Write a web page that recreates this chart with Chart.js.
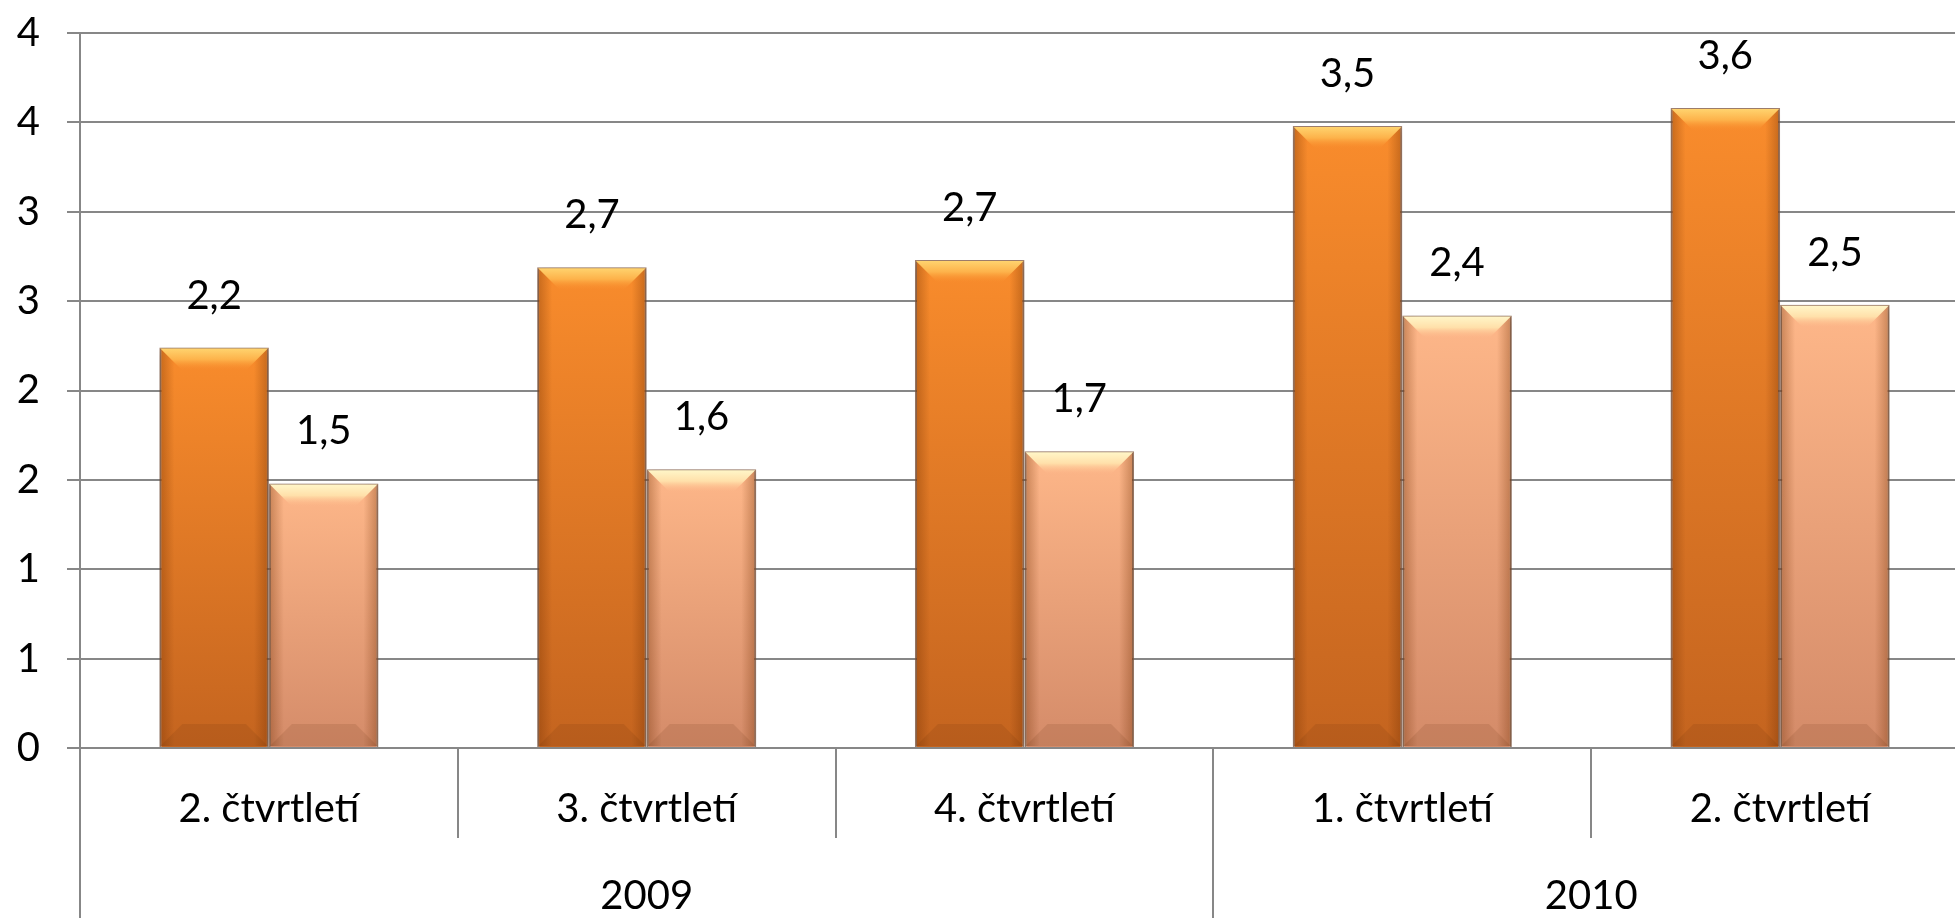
<!DOCTYPE html>
<html>
<head>
<meta charset="utf-8">
<script src="https://cdn.jsdelivr.net/npm/chart.js@4"></script>
<style>
  html, body { margin: 0; padding: 0; background: #fff; overflow: hidden; }
  #wrap { position: absolute; left: 0; top: 0; width: 1970px; height: 918px; }
</style>
</head>
<body>
<div id="wrap"><canvas id="chart" width="1970" height="918"></canvas></div>
<script>
// Data
const quarters = ['2. čtvrtletí', '3. čtvrtletí', '4. čtvrtletí', '1. čtvrtletí', '2. čtvrtletí'];
const years = ['2009', '2010'];
const yearSpans = [3, 2]; // how many quarters sit under each year
const seriesDark = [2.24, 2.69, 2.73, 3.48, 3.58];
const seriesLight = [1.48, 1.56, 1.66, 2.42, 2.48];
const yTicks = [0, 0.5, 1, 1.5, 2, 2.5, 3, 3.5, 4];

const GRID = '#878787';
const FONT = 'Lato';
Chart.defaults.font.family = FONT;
Chart.defaults.font.size = 40;
Chart.defaults.color = '#000';

const fmt = v => v.toFixed(1).replace('.', ',');

// vertical gradient per bar, from its top down to zero
function barGradient(c, top, bottom) {
    const chart = c.chart;
    if (!chart.chartArea || !chart.scales.y) return top;
    const y0 = chart.scales.y.getPixelForValue(c.raw);
    const y1 = chart.scales.y.getPixelForValue(0);
    const g = chart.ctx.createLinearGradient(0, y0, 0, y1);
    g.addColorStop(0, top);
    g.addColorStop(1, bottom);
    return g;
}

// soft shadow + Excel-ish bevel + value labels
const bevelPlugin = {
    id: 'bevel',
    beforeDatasetsDraw(chart) {
        const ctx = chart.ctx;
        ctx.save();
        ctx.shadowColor = 'rgba(0,0,0,0.28)';
        ctx.shadowBlur = 10;
        ctx.shadowOffsetY = 2;
    },
    afterDatasetsDraw(chart) {
        const ctx = chart.ctx;
        ctx.restore();
        chart.data.datasets.forEach((ds, di) => {
            chart.getDatasetMeta(di).data.forEach((bar, i) => {
                const l = bar.x - bar.width / 2 + 1, r = bar.x + bar.width / 2 - 1;
                const t = bar.y + 1, b = bar.base - 1;
                const s = 22;

                // side shading
                let g = ctx.createLinearGradient(l, 0, l + 14, 0);
                g.addColorStop(0, 'rgba(110,45,0,0.35)');
                g.addColorStop(1, 'rgba(110,45,0,0)');
                ctx.fillStyle = g;
                ctx.fillRect(l, t, 14, b - t);
                g = ctx.createLinearGradient(r - 14, 0, r, 0);
                g.addColorStop(0, 'rgba(110,45,0,0)');
                g.addColorStop(1, 'rgba(110,45,0,0.35)');
                ctx.fillStyle = g;
                ctx.fillRect(r - 14, t, 14, b - t);

                // bottom bevel
                ctx.beginPath();
                ctx.moveTo(l, b); ctx.lineTo(r, b);
                ctx.lineTo(r - s, b - s); ctx.lineTo(l + s, b - s);
                ctx.closePath();
                ctx.fillStyle = 'rgba(90,40,10,0.12)';
                ctx.fill();

                // top bevel
                g = ctx.createLinearGradient(0, t, 0, t + s);
                g.addColorStop(0, ds.bevelTop[0]);
                g.addColorStop(0.5, ds.bevelTop[1]);
                g.addColorStop(1, ds.bevelTop[2]);
                ctx.beginPath();
                ctx.moveTo(l, t); ctx.lineTo(r, t);
                ctx.lineTo(r - s, t + s); ctx.lineTo(l + s, t + s);
                ctx.closePath();
                ctx.fillStyle = g;
                ctx.fill();

                // value label
                ctx.font = '40px ' + FONT;
                ctx.fillStyle = '#000';
                ctx.textAlign = 'center';
                ctx.textBaseline = 'middle';
                ctx.fillText(fmt(ds.data[i]), bar.x, bar.y - 52);
            });
        });
    }
};

// second axis level: years under the quarters
const yearPlugin = {
    id: 'years',
    afterDraw(chart) {
        const ctx = chart.ctx;
        const xs = chart.scales.x;
        ctx.save();
        ctx.strokeStyle = GRID;
        ctx.lineWidth = 2;
        ctx.font = '40px ' + FONT;
        ctx.fillStyle = '#000';
        ctx.textAlign = 'center';
        ctx.textBaseline = 'middle';
        let start = 0;
        years.forEach((yr, k) => {
            const end = start + yearSpans[k];
            const x0 = xs.getPixelForValue(start - 0.5);
            const x1 = xs.getPixelForValue(end - 0.5);
            [x0, x1].forEach(x => {
                ctx.beginPath();
                ctx.moveTo(Math.round(x), xs.top);
                ctx.lineTo(Math.round(x), chart.height);
                ctx.stroke();
            });
            ctx.fillText(yr, (x0 + x1) / 2, 896);
            start = end;
        });
        ctx.restore();
    }
};

new Chart(document.getElementById('chart'), {
    type: 'bar',
    data: {
        labels: quarters,
        datasets: [
            {
                data: seriesDark,
                backgroundColor: c => barGradient(c, '#F98C2C', '#C4641F'),
                borderColor: 'rgba(140,95,70,0.75)',
                borderWidth: 2,
                bevelTop: ['#FFD36E', '#FDB24A', 'rgba(249,140,44,0)']
            },
            {
                data: seriesLight,
                backgroundColor: c => barGradient(c, '#FEB789', '#D48B69'),
                borderColor: 'rgba(140,95,70,0.75)',
                borderWidth: 2,
                bevelTop: ['#FFF6C8', '#FFE0AA', 'rgba(254,183,137,0)']
            }
        ]
    },
    options: {
        responsive: false,
        animation: false,
        layout: { padding: { top: 33, left: 0, right: 1, bottom: 0 } },
        datasets: { bar: { categoryPercentage: 0.58, barPercentage: 1 } },
        plugins: { legend: { display: false }, tooltip: { enabled: false } },
        scales: {
            x: {
                grid: { offset: true, drawOnChartArea: false, tickLength: 90, color: GRID, lineWidth: 2 },
                border: { color: GRID, width: 2 },
                ticks: { padding: -53, maxRotation: 0, autoSkip: false, color: '#000' },
                afterFit: s => { s.height = 170; s.paddingLeft = 0; s.paddingRight = 0; }
            },
            y: {
                min: 0,
                max: 4,
                afterBuildTicks: s => { s.ticks = yTicks.map(v => ({ value: v })); },
                grid: { color: GRID, lineWidth: 2, tickLength: 13 },
                border: { color: GRID, width: 2 },
                ticks: { padding: 27, color: '#000', callback: v => Math.round(v) },
                afterFit: s => { s.width = 80; s.paddingTop = 0; s.paddingBottom = 0; }
            }
        }
    },
    plugins: [bevelPlugin, yearPlugin]
});
</script>
</body>
</html>
